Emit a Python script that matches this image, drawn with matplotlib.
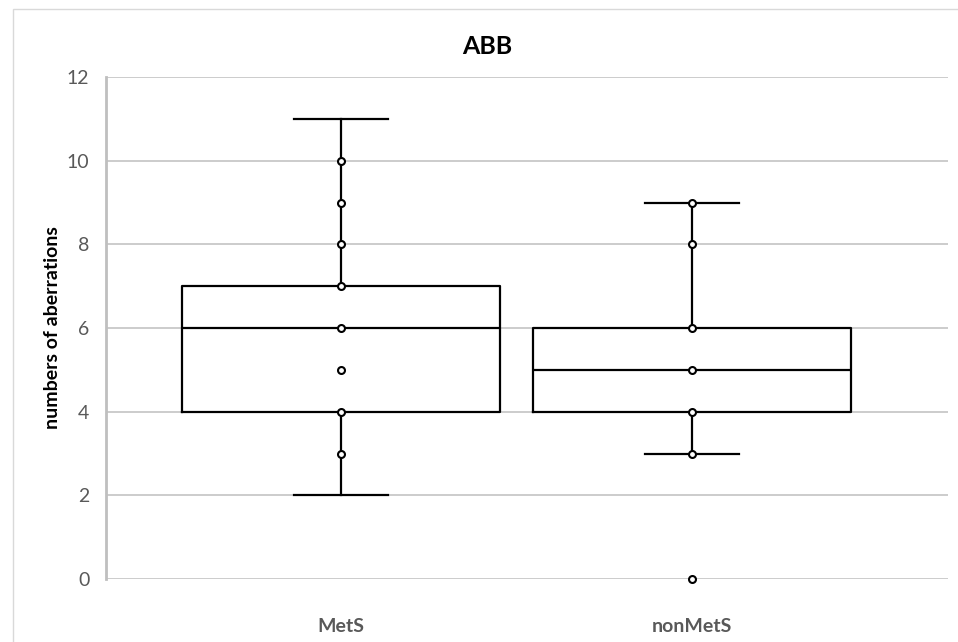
import matplotlib
matplotlib.use("Agg")
import matplotlib.pyplot as plt
from matplotlib.patches import Rectangle

plt.rcParams['font.family'] = ['Lato', 'DejaVu Sans']

# data
categories = ['MetS', 'nonMetS']
q1 = [4, 4]
median = [6, 5]
q3 = [7, 6]
whisker_low = [2, 3]
whisker_high = [11, 9]
mets_points = [3, 4, 5, 6, 7, 8, 9, 10]
nonmets_points = [0, 3, 4, 5, 6, 8, 9]
points = [mets_points, nonmets_points]
yticks = [0, 2, 4, 6, 8, 10, 12]

stats = []
for i, name in enumerate(categories):
    stats.append({
        'label': name,
        'q1': q1[i], 'med': median[i], 'q3': q3[i],
        'whislo': whisker_low[i], 'whishi': whisker_high[i],
        'fliers': [],
    })

fig = plt.figure(figsize=(9.58, 6.42), dpi=100)
ax = fig.add_axes([106 / 958, 1 - 579 / 642, (948 - 106) / 958, (579 - 77) / 642])

line = dict(color='black', linewidth=1.6)
ax.bxp(stats, positions=[0, 1], widths=0.905, capwidths=0.268,
       boxprops=line, medianprops=line, whiskerprops=line, capprops=line,
       showfliers=False, zorder=3)

for i, pts in enumerate(points):
    ax.plot([i] * len(pts), pts, linestyle='none', marker='o', markersize=5,
            markerfacecolor='white', markeredgecolor='black',
            markeredgewidth=1.5, zorder=4, clip_on=False)

ax.set_xlim(-0.6695, 1.729)
ax.set_ylim(0, 12)
ax.set_yticks(yticks)
ax.grid(axis='y', color='#c8c8c8', linewidth=1.3, zorder=0)
ax.set_axisbelow(True)
for s in ['top', 'right', 'bottom']:
    ax.spines[s].set_visible(False)
ax.spines['left'].set_color('#bfbfbf')
ax.spines['left'].set_linewidth(2)
ax.tick_params(axis='both', length=0, colors='#595959', labelsize=14)
ax.tick_params(axis='y', pad=12)
ax.tick_params(axis='x', pad=28)
ax.set_xticks([0, 1])
ax.set_xticklabels(categories, fontweight='bold')

ax.set_ylabel('numbers of aberrations', fontsize=14, fontweight='bold', labelpad=4)
fig.text(487 / 958, 1 - 47 / 642, 'ABB', ha='center', va='center',
         fontsize=18, fontweight='bold')

fig.patches.append(Rectangle((13 / 958, -0.1), 1.2, 1 - 9 / 642 + 0.1,
                             transform=fig.transFigure, fill=False,
                             edgecolor='#d9d9d9', linewidth=1))

fig.savefig('out.png', dpi=100)
